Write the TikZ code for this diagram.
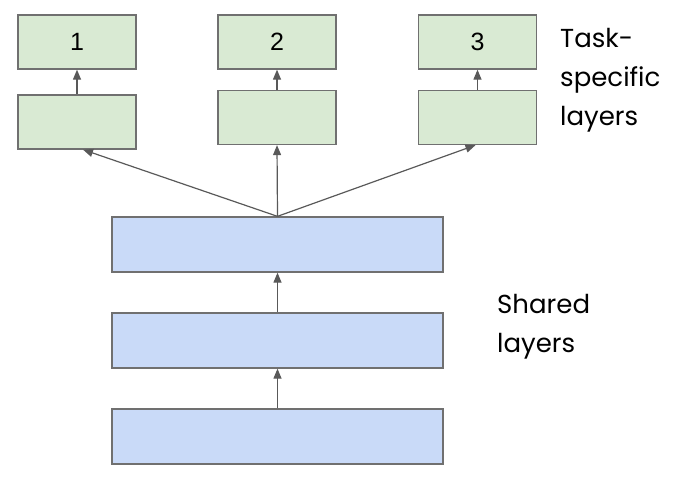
\documentclass[tikz,border=0pt]{standalone}
\usepackage{fontspec}
\setmainfont{Liberation Sans}
\newfontfamily\labelfont{Poppins}
\usetikzlibrary{arrows.meta}
\definecolor{greenfill}{HTML}{D9EAD3}
\definecolor{bluefill}{HTML}{C9DAF8}
\definecolor{edgegray}{HTML}{707070}
\definecolor{arrowgray}{HTML}{595959}
\begin{document}
\begin{tikzpicture}[x=1pt,y=-1pt,
  taskbox/.style={draw=edgegray,line width=1.3pt,fill=greenfill,minimum width=118pt,minimum height=54pt,inner sep=0pt,font=\fontsize{25}{28}\selectfont},
  sharedbox/.style={draw=edgegray,line width=1.3pt,fill=bluefill,minimum width=331pt,minimum height=55pt,inner sep=0pt},
  conn/.style={draw=arrowgray,line width=1.2pt,-{Triangle[length=10pt,width=8pt]}},
  sidelabel/.style={font=\labelfont\fontsize{26}{39}\selectfont,align=left,anchor=base west,inner sep=0pt}]
\useasboundingbox (0,0) rectangle (674,479);
\node[taskbox] (t1) at (77,42) {1};
\node[taskbox] (g1) at (77,122) {};
\node[taskbox] (t2) at (277,42) {2};
\node[taskbox] (g2) at (277,117.5) {};
\node[taskbox] (t3) at (477.5,42) {3};
\node[taskbox] (g3) at (477.5,117.5) {};
\node[sharedbox] (s3) at (277.5,244.5) {};
\node[sharedbox] (s2) at (277.5,340.5) {};
\node[sharedbox] (s1) at (277.5,436.5) {};
\draw[conn] (g1) -- (t1);
\draw[conn] (g2) -- (t2);
\draw[conn] (g3) -- (t3);
\draw[conn] (s3.north) -- ([xshift=6pt]g1.south);
\draw[conn] (s3.north) -- (g2.south);
\draw[conn] (s3.north) -- ([xshift=-2pt]g3.south);
\draw[conn] (s2) -- (s3);
\draw[conn] (s1) -- (s2);
\node[sidelabel] (tasklabel) at (560,125) {Task-\\specific\\layers};
\node[sidelabel] (sharedlabel) at (497,352) {Shared\\layers};
\end{tikzpicture}
\end{document}
